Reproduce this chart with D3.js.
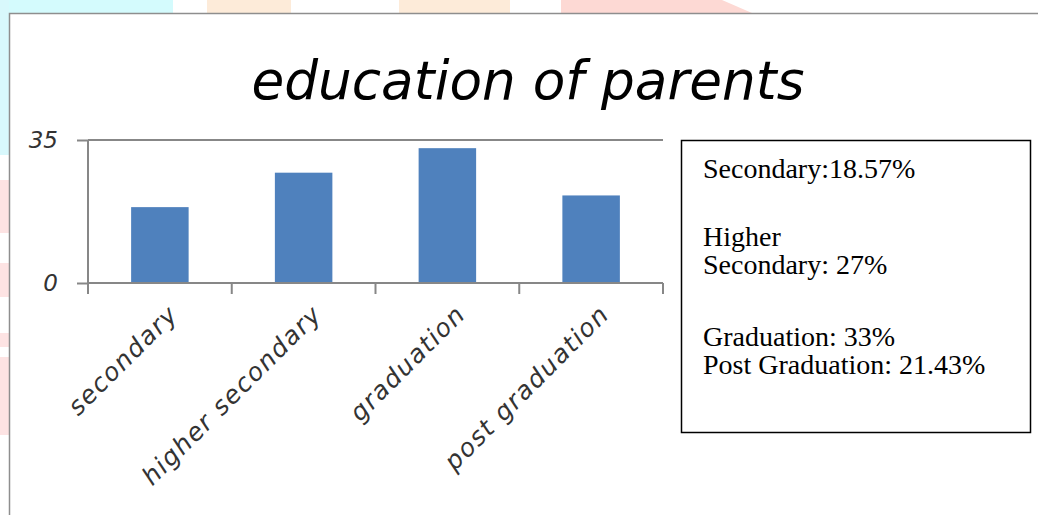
<!DOCTYPE html>
<html>
<head>
<meta charset="utf-8">
<script src="https://cdn.jsdelivr.net/npm/d3@7"></script>
<style>
  html, body { margin: 0; padding: 0; background: #fff; }
  svg { display: block; }
</style>
</head>
<body>
<div id="chart"></div>
<script>
// chart data
const categories = ['secondary', 'higher secondary', 'graduation', 'post graduation'];
const values = [18.57, 27, 33, 21.43];
const yTicks = [0, 35];
const titleText = 'education of parents';
const noteLines = [
    'Secondary:18.57%',
    'Higher',
    'Secondary: 27%',
    'Graduation: 33%',
    'Post Graduation: 21.43%'
];

const width = 1038;
const height = 515;

const svg = d3.select('#chart')
    .append('svg')
    .attr('width', width)
    .attr('height', height);

// faint watermark bits behind the picture
const bg = svg.append('g');
bg.append('rect').attr('x', 0).attr('y', 0).attr('width', 173).attr('height', 13).attr('fill', '#d4fbfd');
bg.append('rect').attr('x', 207).attr('y', 0).attr('width', 84).attr('height', 13).attr('fill', '#fdebd9');
bg.append('rect').attr('x', 399).attr('y', 0).attr('width', 111).attr('height', 13).attr('fill', '#fdebd9');
bg.append('polygon').attr('points', '561,0 722,0 752,13 561,13').attr('fill', '#fdd9d4');
bg.append('rect').attr('x', 0).attr('y', 0).attr('width', 9).attr('height', 155).attr('fill', '#d8f8fc');
[[180, 53], [263, 34], [333, 14], [357, 78]].forEach(([y0, h]) => {
    bg.append('rect').attr('x', 0).attr('y', y0).attr('width', 9).attr('height', h).attr('fill', '#fde3e3');
});

// chart frame (runs off the right and bottom of the picture)
svg.append('rect')
    .attr('x', 9.5).attr('y', 13.5)
    .attr('width', width + 20).attr('height', height + 20)
    .attr('fill', '#fff')
    .attr('stroke', '#8e8e8e')
    .attr('stroke-width', 1.5);

// title
svg.append('text')
    .attr('x', 528)
    .attr('y', 99)
    .attr('text-anchor', 'middle')
    .attr('font-family', 'DejaVu Sans, sans-serif')
    .attr('font-style', 'italic')
    .attr('font-size', '53px')
    .attr('textLength', 553)
    .attr('lengthAdjust', 'spacingAndGlyphs')
    .attr('fill', '#000')
    .text(titleText);

// plot area
const plot = { left: 88, right: 663, top: 140, bottom: 283 };

const x = d3.scaleBand()
    .domain(categories)
    .range([plot.left, plot.right])
    .paddingInner(0.6)
    .paddingOuter(0.3);

const y = d3.scaleLinear()
    .domain([0, 35])
    .range([plot.bottom, plot.top]);

const axisColor = '#878787';

// gridline at the top value
svg.append('g')
    .selectAll('line')
    .data(yTicks.filter(d => d > 0))
    .join('line')
    .attr('x1', plot.left).attr('x2', plot.right)
    .attr('y1', d => y(d)).attr('y2', d => y(d))
    .attr('stroke', axisColor)
    .attr('stroke-width', 2);

// bars
svg.append('g')
    .selectAll('rect')
    .data(values)
    .join('rect')
    .attr('x', (d, i) => x(categories[i]))
    .attr('y', d => y(d))
    .attr('width', x.bandwidth())
    .attr('height', d => y(0) - y(d))
    .attr('fill', '#4f81bd');

// y axis
const yAxis = svg.append('g')
    .attr('transform', `translate(${plot.left},0)`)
    .call(d3.axisLeft(y).tickValues(yTicks).tickSize(11).tickPadding(19).tickSizeOuter(0));
yAxis.select('.domain').remove();
yAxis.selectAll('.tick line').attr('stroke', axisColor).attr('stroke-width', 2);
yAxis.selectAll('.tick text')
    .attr('font-family', 'DejaVu Sans, sans-serif')
    .attr('font-style', 'italic')
    .attr('font-size', '23px')
    .attr('fill', '#333');

svg.append('line')
    .attr('x1', plot.left).attr('x2', plot.left)
    .attr('y1', y(35)).attr('y2', y(0) + 11)
    .attr('stroke', axisColor).attr('stroke-width', 2);

// x axis line and boundary ticks
svg.append('line')
    .attr('x1', plot.left).attr('x2', plot.right)
    .attr('y1', y(0)).attr('y2', y(0))
    .attr('stroke', axisColor).attr('stroke-width', 2);

const gap = (x.step() - x.bandwidth()) / 2;
const bounds = categories.map(c => x(c) - gap).concat([plot.right]);
svg.append('g')
    .selectAll('line')
    .data(bounds)
    .join('line')
    .attr('x1', d => d).attr('x2', d => d)
    .attr('y1', y(0)).attr('y2', y(0) + 11)
    .attr('stroke', axisColor).attr('stroke-width', 2);

// rotated category labels
svg.append('g')
    .selectAll('text')
    .data(categories)
    .join('text')
    .attr('transform', d => `translate(${x(d) + x.bandwidth() / 2 + 9},${y(0) + 22}) rotate(-45)`)
    .attr('text-anchor', 'end')
    .attr('dy', '0.6em')
    .attr('font-family', 'DejaVu Sans, sans-serif')
    .attr('font-style', 'italic')
    .attr('font-size', '25px')
    .attr('letter-spacing', '1.5px')
    .attr('fill', '#333')
    .text(d => d);

// note box
svg.append('rect')
    .attr('x', 681.5).attr('y', 140.5)
    .attr('width', 349).attr('height', 292)
    .attr('fill', '#fff')
    .attr('stroke', '#000')
    .attr('stroke-width', 1.5);

const noteBaselines = [178, 246, 274, 346, 374];
svg.append('g')
    .selectAll('text')
    .data(noteLines)
    .join('text')
    .attr('x', 703)
    .attr('y', (d, i) => noteBaselines[i])
    .attr('font-family', 'Liberation Serif, Times New Roman, serif')
    .attr('font-size', '28px')
    .attr('fill', '#000')
    .text(d => d);
</script>
</body>
</html>
